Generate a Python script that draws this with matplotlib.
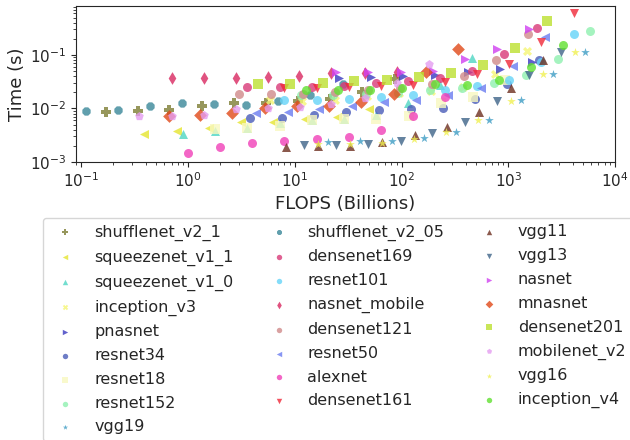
import matplotlib
matplotlib.use("Agg")
import matplotlib.pyplot as plt

# legend / draw order
models = ["shufflenet_v2_1", "squeezenet_v1_1", "squeezenet_v1_0", "inception_v3",
          "pnasnet", "resnet34", "resnet18", "resnet152", "vgg19",
          "shufflenet_v2_05", "densenet169", "resnet101", "nasnet_mobile",
          "densenet121", "resnet50", "alexnet", "densenet161",
          "vgg11", "vgg13", "nasnet", "mnasnet", "densenet201", "mobilenet_v2",
          "vgg16", "inception_v4"]

# FLOPS (billions) per measurement
flops = {
    "shufflenet_v2_05": [0.11, 0.22, 0.44, 0.88, 1.75, 3.5, 7.0, 14, 28],
    "shufflenet_v2_1": [0.17, 0.34, 0.67, 1.34, 2.7, 5.4, 10.7, 21.5, 43, 86],
    "squeezenet_v1_1": [0.39, 0.78, 1.56, 3.1, 6.2, 12.5, 25, 50],
    "squeezenet_v1_0": [0.9, 1.8, 3.6, 7.2, 14.4, 29, 58, 115, 230, 460],
    "mobilenet_v2": [0.35, 0.7, 1.4, 2.8, 5.6, 11.2, 22, 45, 90, 180],
    "mnasnet": [0.66, 1.3, 2.6, 5.3, 10.6, 21, 42, 85, 170, 340],
    "nasnet_mobile": [0.7, 1.4, 2.8, 5.6, 11, 22, 45, 90],
    "alexnet": [1, 2, 4, 8, 16, 32, 64, 128, 256],
    "resnet18": [1.8, 3.6, 7.3, 14.6, 29, 58, 117, 234, 470, 940],
    "resnet34": [3.8, 7.6, 15, 30, 61, 122, 243, 486, 970, 1940],
    "resnet50": [4.3, 8.6, 17, 34, 69, 138, 275, 550, 1100, 2200],
    "resnet101": [8, 16, 32, 64, 128, 256, 512, 1024, 2048, 4096],
    "resnet152": [11.5, 23, 46, 92, 184, 368, 736, 1470, 2940, 5890],
    "inception_v3": [5.9, 11.8, 23.6, 47, 94, 189, 378, 755, 1510],
    "inception_v4": [12.8, 25.6, 51, 102, 205, 410, 820, 1640, 3280],
    "densenet121": [3, 6, 12, 24, 48, 96, 192, 384, 768, 1536],
    "densenet169": [3.6, 7.2, 14.4, 29, 58, 115, 230, 460, 920, 1840],
    "densenet201": [4.55, 9.1, 18.2, 36, 73, 146, 291, 582, 1165, 2330],
    "densenet161": [8, 16, 32, 64, 128, 256, 512, 1024, 2048, 4096],
    "nasnet": [24.5, 49, 98, 196, 392, 784, 1568],
    "pnasnet": [26, 52, 104, 208, 416, 832, 1664],
    "vgg11": [8.3, 16.6, 33, 66, 133, 266, 531, 1062, 2125],
    "vgg13": [12.2, 24.4, 49, 98, 195, 390, 780, 1560, 3120],
    "vgg16": [16.4, 32.8, 66, 131, 262, 525, 1050, 2100, 4200],
    "vgg19": [20.4, 40.8, 82, 163, 326, 653, 1305, 2610, 5220],
}

# time (s) per measurement
times = {
    "shufflenet_v2_05": [0.0089, 0.0095, 0.011, 0.0124, 0.0122, 0.0115, 0.0135, 0.0176, 0.029],
    "shufflenet_v2_1": [0.0087, 0.0089, 0.0095, 0.0112, 0.0124, 0.0125, 0.0137, 0.0151, 0.020, 0.036],
    "squeezenet_v1_1": [0.0034, 0.0038, 0.0044, 0.0056, 0.0056, 0.0064, 0.007, 0.0096],
    "squeezenet_v1_0": [0.0034, 0.0038, 0.0044, 0.0054, 0.006, 0.0064, 0.0074, 0.0128, 0.0278, 0.087],
    "mobilenet_v2": [0.0072, 0.0072, 0.0077, 0.0096, 0.0103, 0.0106, 0.0122, 0.0158, 0.0299, 0.067],
    "mnasnet": [0.0072, 0.0074, 0.0081, 0.01, 0.011, 0.011, 0.0131, 0.019, 0.049, 0.129],
    "nasnet_mobile": [0.0371, 0.0371, 0.0371, 0.0386, 0.0408, 0.0458, 0.0458, 0.0478],
    "alexnet": [0.0015, 0.00187, 0.00225, 0.0025, 0.00267, 0.0029, 0.004, 0.0072, 0.0165],
    "resnet18": [0.0041, 0.0044, 0.0048, 0.006, 0.0063, 0.0064, 0.0072, 0.0128, 0.0167, 0.0344],
    "resnet34": [0.0065, 0.0066, 0.0074, 0.0087, 0.0093, 0.0099, 0.0103, 0.0151, 0.0287, 0.081],
    "resnet50": [0.0083, 0.0085, 0.0096, 0.011, 0.0131, 0.0143, 0.0182, 0.0242, 0.061, 0.215],
    "resnet101": [0.0147, 0.0147, 0.0153, 0.0162, 0.0182, 0.0218, 0.0259, 0.0334, 0.073, 0.248],
    "resnet152": [0.0182, 0.0182, 0.019, 0.0198, 0.0225, 0.0242, 0.0299, 0.0414, 0.084, 0.275],
    "inception_v3": [0.0143, 0.0139, 0.0147, 0.0169, 0.0195, 0.0209, 0.0248, 0.0445, 0.12],
    "inception_v4": [0.0221, 0.0225, 0.0225, 0.0242, 0.0287, 0.027, 0.0347, 0.059, 0.153],
    "densenet121": [0.0186, 0.0187, 0.019, 0.0204, 0.0225, 0.0242, 0.0287, 0.0397, 0.081, 0.242],
    "densenet169": [0.0248, 0.0252, 0.0255, 0.0267, 0.0299, 0.032, 0.0371, 0.051, 0.104, 0.312],
    "densenet201": [0.029, 0.029, 0.0299, 0.032, 0.0334, 0.0386, 0.0458, 0.065, 0.132, 0.44],
    "densenet161": [0.0242, 0.0245, 0.0248, 0.0259, 0.0278, 0.0316, 0.0432, 0.068, 0.174, 0.607],
    "nasnet": [0.0475, 0.0484, 0.049, 0.0506, 0.083, 0.131, 0.303],
    "pnasnet": [0.0371, 0.038, 0.0397, 0.042, 0.047, 0.055, 0.075],
    "vgg11": [0.00187, 0.00195, 0.002, 0.0024, 0.0032, 0.0046, 0.0087, 0.0242, 0.081],
    "vgg13": [0.0021, 0.0021, 0.00213, 0.00248, 0.0035, 0.0056, 0.0137, 0.0414, 0.112],
    "vgg16": [0.00215, 0.00215, 0.0023, 0.00267, 0.0037, 0.006, 0.0139, 0.0432, 0.112],
    "vgg19": [0.00238, 0.00248, 0.00248, 0.00275, 0.0036, 0.006, 0.0141, 0.0432, 0.113],
}

colors = {
    "shufflenet_v2_1": "#7d7d33", "squeezenet_v1_1": "#e5e530", "squeezenet_v1_0": "#4fd6c4",
    "inception_v3": "#f5f575", "pnasnet": "#3a3ac0", "resnet34": "#4a5cb8",
    "resnet18": "#f8f8c0", "resnet152": "#8ff0b0", "vgg19": "#3d9cc4",
    "shufflenet_v2_05": "#3a8799", "densenet169": "#d93a78", "resnet101": "#66d4f8",
    "nasnet_mobile": "#d92860", "densenet121": "#d08a8a", "resnet50": "#6a7cf0",
    "alexnet": "#f040b8", "densenet161": "#f02838", "vgg11": "#6e3020",
    "vgg13": "#3e6488", "nasnet": "#d040f0", "mnasnet": "#e04818",
    "densenet201": "#bce030", "mobilenet_v2": "#e49cf0", "vgg16": "#f0f050",
    "inception_v4": "#60e030",
}

markers = {
    "shufflenet_v2_1": "P", "squeezenet_v1_1": "<", "squeezenet_v1_0": "^",
    "inception_v3": "X", "pnasnet": ">", "resnet34": "o", "resnet18": "s",
    "resnet152": "o", "vgg19": "*", "shufflenet_v2_05": "8", "densenet169": "o",
    "resnet101": "o", "nasnet_mobile": "d", "densenet121": "o", "resnet50": "<",
    "alexnet": "o", "densenet161": "v", "vgg11": "^", "vgg13": "v", "nasnet": ">",
    "mnasnet": "D", "densenet201": "s", "mobilenet_v2": "p", "vgg16": "*",
    "inception_v4": "o",
}

dark = "#262626"
plt.rcParams["text.color"] = dark
plt.rcParams["axes.labelcolor"] = dark
plt.rcParams["xtick.color"] = dark
plt.rcParams["ytick.color"] = dark
plt.rcParams["axes.edgecolor"] = dark

fig = plt.figure(figsize=(6.3, 4.4), dpi=100)
ax = fig.add_axes([0.1206, 0.6318, 0.8556, 0.3545])

for m in models:
    ax.scatter(flops[m], times[m], s=42, c=colors[m], marker=markers[m],
               alpha=0.8, linewidths=0, label=m)

ax.set_xscale("log")
ax.set_yscale("log")
ax.set_xlim(10 ** -1.05, 1e4)
ax.set_ylim(1e-3, 0.82)
ax.set_xlabel("FLOPS (Billions)", fontsize=13, labelpad=3)
ax.set_ylabel("Time (s)", fontsize=13, labelpad=3)
ax.tick_params(labelsize=11)

fig.legend(loc="upper left", bbox_to_anchor=(0.0683, 0.5045), borderaxespad=0,
           ncol=3, fontsize=11.5, markerscale=0.6, frameon=True,
           labelspacing=0.55, columnspacing=1.82)

plt.savefig("out.png", dpi=100)
